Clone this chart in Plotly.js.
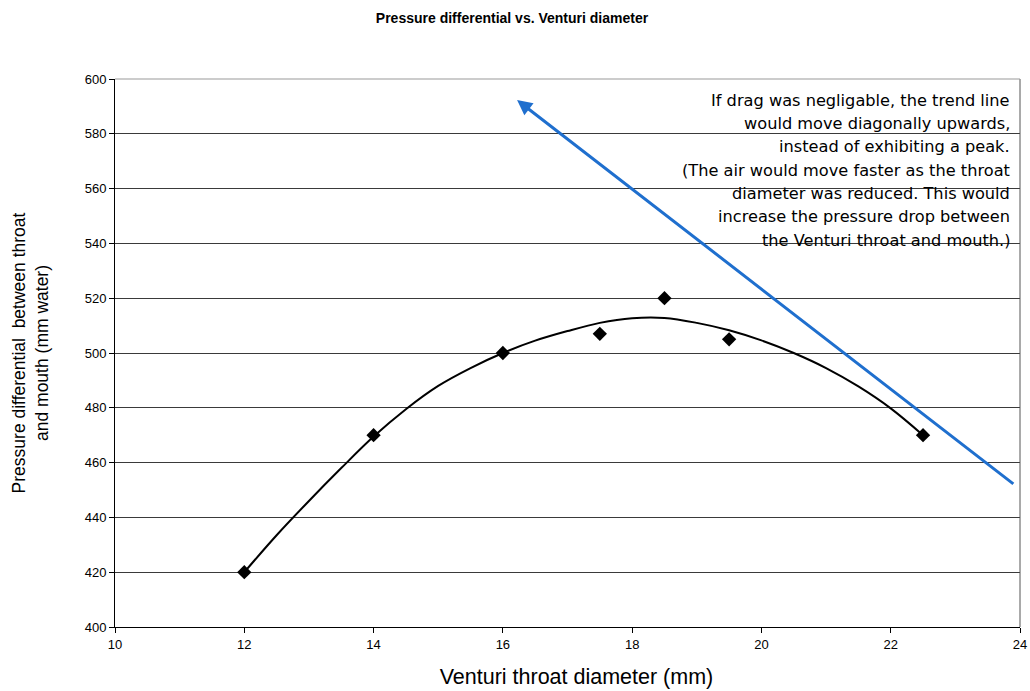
<!DOCTYPE html>
<html>
<head>
<meta charset="utf-8">
<script src="https://cdn.plot.ly/plotly-3.0.1.min.js"></script>
<style>
  html, body { margin: 0; padding: 0; background: #fff; }
  #chart { width: 1030px; height: 691px; }
</style>
</head>
<body>
<div id="chart"></div>
<script>
// Measured points
const diameter = [12, 14, 16, 17.5, 18.5, 19.5, 22.5];
const pressure = [420, 470, 500, 507, 520, 505, 470];

// Trend line
const trendX = [12, 12.5, 13, 13.5, 14, 14.5, 15, 15.5, 16, 16.5, 17, 17.5, 18, 18.5, 19, 19.5, 20, 20.5, 21, 21.5, 22, 22.5];
const trendY = [420, 433.5, 446, 458, 469.5, 479.5, 488, 494.5, 500, 504.5, 508, 511, 512.7, 512.8, 511, 508.3, 504.6, 500, 494.5, 487.8, 479.8, 470];

// Arrow (tip, tail) in data units
const arrowTip = [16.22, 592.3];
const arrowTail = [23.92, 451.8];

const xTicks = [10, 12, 14, 16, 18, 20, 22, 24];
const yTicks = [400, 420, 440, 460, 480, 500, 520, 540, 560, 580, 600];

const noteLines = [
  "If drag was negligable, the trend line",
  "would move diagonally upwards,",
  "instead of exhibiting a peak.",
  "(The air would move faster as the throat",
  "diameter was reduced. This would",
  "increase the pressure drop between",
  "the Venturi throat and mouth.)"
];

const titleText = "Pressure differential vs. Venturi diameter";
const xTitle = "Venturi throat diameter (mm)";
const yTitle = "Pressure differential  between throat<br>and mouth (mm water)";

const FONT = "Liberation Sans, Arial, sans-serif";
const WIDE = "DejaVu Sans, Verdana, sans-serif";

const traces = [
  {
    x: trendX, y: trendY, mode: 'lines', type: 'scatter',
    line: { color: '#000', width: 2, shape: 'spline', smoothing: 1 },
    hoverinfo: 'skip', showlegend: false
  },
  {
    x: diameter, y: pressure, mode: 'markers', type: 'scatter',
    marker: { symbol: 'diamond', size: 11, color: '#000' },
    showlegend: false
  }
];

// plot area pixel geometry
const L = 115, R = 10, T = 79, B = 64, W = 1030, H = 691;
const plotH = H - T - B;
const plotW = W - L - R;
const py = p => (H - B - p) / plotH;     // pixel y -> paper y
const px = p => (p - L) / plotW;         // pixel x -> paper x

const annotations = [];
// arrow
annotations.push({
  x: arrowTip[0], y: arrowTip[1], xref: 'x', yref: 'y',
  ax: arrowTail[0], ay: arrowTail[1], axref: 'x', ayref: 'y',
  text: '', showarrow: true, arrowhead: 2, arrowsize: 1,
  arrowwidth: 3, arrowcolor: '#1f6fce'
});
// note text lines
noteLines.forEach((t, i) => {
  annotations.push({
    xref: 'paper', yref: 'paper',
    x: px(1012), y: py(100 + i * 23.4),
    xanchor: 'right', yanchor: 'middle',
    text: t, showarrow: false,
    font: { family: WIDE, size: 16.2, color: '#000' }
  });
});

const layout = {
  width: W, height: H,
  margin: { l: L, r: R, t: T, b: B, pad: 0 },
  paper_bgcolor: '#fff', plot_bgcolor: '#fff',
  title: {
    text: '<b>' + titleText + '</b>',
    font: { family: FONT, size: 14, color: '#000' },
    x: px(512), xanchor: 'center', xref: 'paper',
    y: 1 - 18 / H, yanchor: 'middle', yref: 'container'
  },
  xaxis: {
    range: [10, 24], tickvals: xTicks, ticktext: xTicks.map(String),
    showgrid: false, zeroline: false,
    showline: true, linecolor: '#000', linewidth: 1, mirror: false,
    ticks: 'outside', ticklen: 5, tickcolor: '#000',
    tickfont: { family: FONT, size: 13, color: '#000' },
    title: { text: '&nbsp;&nbsp;&nbsp;' + xTitle, font: { family: FONT, size: 21.5, color: '#000' }, standoff: 18 }
  },
  yaxis: {
    range: [400, 600], tickvals: yTicks, ticktext: yTicks.map(String),
    showgrid: true, gridcolor: '#3a3a3a', gridwidth: 1,
    zeroline: false,
    showline: true, linecolor: '#000', linewidth: 1,
    ticks: 'outside', ticklen: 5, tickcolor: '#000',
    tickfont: { family: FONT, size: 13, color: '#000' },
    title: { text: yTitle, font: { family: FONT, size: 17.5, color: '#000' }, standoff: 31 }
  },
  shapes: [
    // right border of plot area
    { type: 'line', xref: 'paper', yref: 'paper', x0: 1, x1: 1, y0: 0, y1: 1,
      line: { color: '#555', width: 1 }, layer: 'above' },
    // top border
    { type: 'line', xref: 'paper', yref: 'paper', x0: 0, x1: 1, y0: 1, y1: 1,
      line: { color: '#999', width: 1 }, layer: 'above' },
    // white box behind the note
    { type: 'rect', xref: 'paper', yref: 'paper',
      x0: px(723), x1: px(1013), y0: py(268), y1: py(84),
      fillcolor: '#fff', line: { width: 0 }, layer: 'between' }
  ],
  annotations: annotations,
  showlegend: false
};

Plotly.newPlot('chart', traces, layout, { displayModeBar: false, staticPlot: true });
</script>
</body>
</html>
